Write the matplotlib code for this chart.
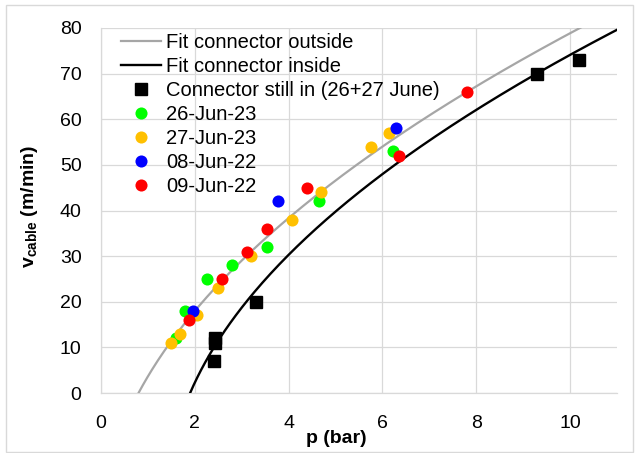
import numpy as np
import matplotlib
matplotlib.use("Agg")
import matplotlib.pyplot as plt
from matplotlib.patches import Rectangle

plt.rcParams['font.family'] = ['Liberation Sans', 'DejaVu Sans']
plt.rcParams['mathtext.fontset'] = 'custom'
plt.rcParams['mathtext.rm'] = 'Liberation Sans'
plt.rcParams['mathtext.bf'] = 'Liberation Sans:bold'

# ---- data ----
in_p = [2.4, 2.42, 2.42, 3.3, 9.3, 10.2]
in_v = [7, 11, 12, 20, 70, 73]

jun26_p = [1.6, 1.8, 2.27, 2.8, 3.53, 4.65, 6.23]
jun26_v = [12, 18, 25, 28, 32, 42, 53]

jun27_p = [1.5, 1.68, 2.05, 2.5, 3.19, 4.07, 4.69, 5.75, 6.15]
jun27_v = [11, 13, 17, 23, 30, 38, 44, 54, 57]

jun08_p = [1.96, 3.78, 6.29]
jun08_v = [18, 42, 58]

jun09_p = [1.88, 2.59, 3.12, 3.54, 4.40, 6.36, 7.80]
jun09_v = [16, 25, 31, 36, 45, 52, 66]

# fit coefficients: p = c0 + c1*v + c2*v^2
fit_out = [0.8, 0.052, 0.00082]
fit_in = [1.9, 0.0417, 0.000912]

x_ticks = [0, 2, 4, 6, 8, 10]
y_ticks = [0, 10, 20, 30, 40, 50, 60, 70, 80]

FS = 14
LFS = 14.5
W, H = 639, 453
fig = plt.figure(figsize=(W / 100, H / 100), dpi=100)
fig.patches.append(Rectangle((6 / W, 1 / H), (633 - 6) / W, (H - 5 - 1) / H,
                             transform=fig.transFigure, fill=False,
                             edgecolor='#d9d9d9', lw=1.0))
ax = fig.add_axes([101 / W, 1 - 393 / H, 516 / W, 365 / H])

v = np.linspace(0, 85, 300)
ax.plot(fit_out[0] + fit_out[1] * v + fit_out[2] * v ** 2, v, color='#a6a6a6', lw=1.6,
        label='Fit connector outside', zorder=3)
ax.plot(fit_in[0] + fit_in[1] * v + fit_in[2] * v ** 2, v, color='black', lw=1.7,
        label='Fit connector inside', zorder=3)

ax.plot(in_p, in_v, ls='none', marker='s', ms=8, color='black',
        label='Connector still in (26+27 June)', zorder=4)
ax.plot(jun26_p, jun26_v, ls='none', marker='o', ms=8.7, color='#00ff00', mec='none',
        label='26-Jun-23', zorder=4)
ax.plot(jun27_p, jun27_v, ls='none', marker='o', ms=8.7, color='#ffc000', mec='none',
        label='27-Jun-23', zorder=4)
ax.plot(jun08_p, jun08_v, ls='none', marker='o', ms=8.7, color='#0000ff', mec='none',
        label='08-Jun-22', zorder=4)
ax.plot(jun09_p, jun09_v, ls='none', marker='o', ms=8.7, color='#ff0000', mec='none',
        label='09-Jun-22', zorder=4)

ax.set_xlim(0, 11)
ax.set_ylim(0, 80)
ax.set_xticks(x_ticks)
ax.set_yticks(y_ticks)
ax.grid(True, color='#d9d9d9', lw=0.9)
ax.set_axisbelow(True)
for s in ['top', 'right']:
    ax.spines[s].set_visible(False)
for s in ['left', 'bottom']:
    ax.spines[s].set_color('#d9d9d9')
    ax.spines[s].set_linewidth(0.9)
ax.tick_params(length=0, labelsize=FS, colors='black')
ax.tick_params(axis='x', pad=16)
ax.tick_params(axis='y', pad=14)

ax.set_xlabel('p (bar)', fontsize=FS, fontweight='bold')
ax.xaxis.set_label_coords(0.457, -0.101)
ax.set_ylabel(r'$\mathbf{v_{cable}}$ (m/min)', fontsize=FS, fontweight='bold')
ax.yaxis.set_label_coords(-0.118, 0.51)

leg = ax.legend(loc='upper left', bbox_to_anchor=(121 / W, 1 - 33 / H),
                bbox_transform=fig.transFigure, frameon=False, fontsize=LFS,
                borderpad=0, borderaxespad=0, handlelength=2.0, handletextpad=0.25,
                labelspacing=0.25)

fig.savefig('out.png', dpi=100)
